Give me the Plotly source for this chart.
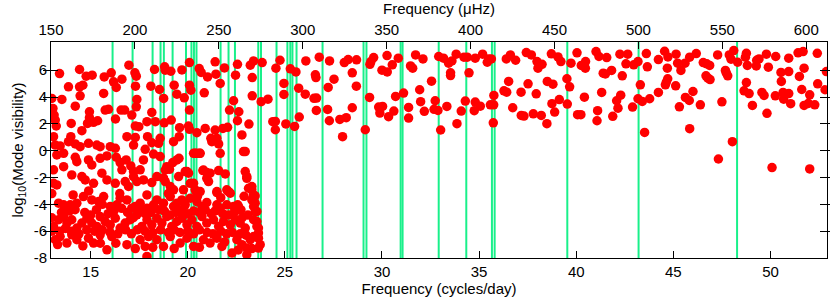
import plotly.graph_objects as go

CD_TO_UHZ = 11.574

# Frequencies (cycles/day) of the green vertical lines
line_freqs = [16.13, 17.16, 18.19, 18.60, 18.77, 19.22, 19.91, 20.19, 20.32, 20.45,
              21.69, 22.10, 22.43, 23.63, 23.77, 24.57, 25.13, 25.28, 25.39, 25.60,
              26.94, 29.05, 29.20, 30.96, 31.06, 32.92, 34.34, 35.66, 35.80, 39.54,
              43.21, 48.28]

# Low-frequency modes, upper part (x in c/d, y = log10 visibility)
low_up_x = [13.00, 13.06, 13.12, 13.18, 13.23, 13.09, 13.40, 13.52, 13.86, 14.00, 13.98, 14.21,
            14.43, 14.43, 14.46, 14.60, 14.55, 14.77, 14.94, 14.94, 14.84, 15.08, 15.15, 15.36,
            15.67, 15.70, 15.75, 15.92, 16.06, 16.18, 16.32, 16.28, 16.61, 16.57, 16.75, 16.87,
            16.97, 17.12, 17.28, 17.35, 17.31, 17.38, 17.35, 17.30, 17.30, 17.48, 17.90, 17.93,
            18.10, 18.15, 18.29, 18.33, 18.55, 18.58, 18.81, 18.84, 18.76, 18.79, 19.13, 19.30,
            19.44, 19.15, 19.58, 19.56, 19.70, 19.82, 20.09, 20.09, 20.16, 20.09, 20.04, 20.09,
            20.47, 20.59, 20.69, 20.85, 21.02, 20.90, 21.19, 21.41, 21.45, 21.41, 21.50, 21.67,
            21.89, 21.81, 22.05, 22.15, 22.36, 22.46, 22.56, 22.56, 22.63, 22.79, 23.15, 23.22,
            23.32, 23.32, 23.39, 23.83, 23.78, 24.13, 24.38]
low_up_y = [3.89, 3.15, 2.65, 2.28, 1.84, 1.04, 5.75, 3.82, 4.76, 2.03, 1.04, 3.32,
            6.05, 4.76, 4.09, 4.88, 1.49, 5.55, 2.90, 2.46, 2.03, 5.63, 2.11, 2.23,
            4.27, 5.50, 3.03, 3.08, 5.80, 5.13, 4.71, 2.36, 5.33, 3.03, 3.03, 1.04,
            6.37, 2.65, 5.80, 5.55, 4.81, 3.82, 3.27, 1.84, 0.99, 1.79, 2.16, 1.04,
            4.81, 2.85, 6.05, 2.16, 4.56, 0.92, 6.25, 6.00, 3.89, 2.08, 5.92, 4.88,
            4.21, 2.28, 1.71, 1.04, 6.02, 3.94, 6.57, 4.88, 4.51, 3.03, 1.84, 1.59,
            1.34, 6.12, 5.83, 4.31, 5.50, 1.66, 0.92, 6.62, 5.70, 1.54, 0.92, 5.01,
            6.17, 1.66, 1.74, 3.03, 3.72, 5.63, 6.44, 2.23, 2.90, 1.17, 1.98, 6.37,
            4.09, 5.45, 6.69, 6.57, 3.65, 3.84, 2.16]

# Low-frequency modes, lower part
low_dn_x = [13.18, 13.43, 13.86, 14.21, 14.46, 14.89, 15.32, 15.49, 16.01, 16.27, 17.21, 17.81,
            18.15, 18.50, 19.27, 20.30, 20.47, 20.64, 21.24, 21.59, 22.87,
            13.26, 13.61, 13.09, 14.21, 14.29, 14.89, 15.06, 15.49, 15.84, 16.32, 16.52, 16.61,
            16.83, 17.07, 17.21, 17.55, 17.72, 18.24, 18.58, 18.92, 19.06, 19.23, 19.55, 19.96,
            20.04, 20.78, 20.98, 21.15, 21.59, 21.93, 22.96, 23.04,
            13.09, 13.26, 13.61, 14.03, 14.55, 14.72, 15.15, 15.58, 15.84, 16.27, 16.78, 16.95,
            17.21, 17.38, 17.72, 18.15, 18.41, 18.75, 18.84, 19.10, 19.27, 19.53, 19.78, 20.13,
            20.38, 20.64, 21.07, 21.50, 22.01, 22.19, 23.13, 23.30, 23.47,
            13.35, 13.61, 13.95, 14.29, 14.63, 15.06, 15.41, 15.67, 16.01, 16.35, 16.52, 16.87,
            17.12, 17.30, 17.55, 17.90, 18.24, 18.41, 18.75, 19.10, 19.27, 19.44, 19.70, 19.87,
            20.13, 20.47, 20.73, 20.98, 21.50, 21.67, 22.01, 22.36, 22.57, 22.74, 23.30, 23.39,
            23.47,
            13.09, 13.35, 13.61, 13.78, 14.03, 14.29, 14.55, 14.81, 15.06, 15.32, 15.49, 15.75,
            16.01, 16.27, 16.52, 16.78, 17.04, 17.38, 17.64, 17.90, 18.15, 18.41, 18.67, 18.92,
            19.18, 19.44, 19.70, 19.96, 20.21, 20.47, 20.73, 20.98, 21.33, 21.59, 21.84, 22.19,
            22.45, 22.70, 22.96, 23.39, 23.56, 23.64,
            13.18, 13.43, 13.78, 14.03, 14.29, 14.89, 15.15, 15.49, 15.84, 16.09, 16.87, 17.55,
            17.81, 17.90, 17.98, 18.41, 18.75, 19.10, 19.61, 19.96, 20.30, 20.81, 21.15, 21.50,
            21.76, 22.28, 22.53, 22.79, 23.04, 23.22, 23.64, 23.39,
            18.84, 19.44, 18.75, 19.87, 20.30, 20.47, 20.81, 20.98, 20.38, 20.61, 21.67, 22.96,
            23.04, 23.30, 23.39, 23.47, 23.56, 23.56, 23.64, 23.73, 23.64, 23.04, 22.10, 21.50,
            22.61,
            13.5, 13.9, 14.2, 14.7, 15.0, 15.3, 15.6, 15.9, 16.2, 16.6, 16.9, 17.2, 17.5, 17.8,
            18.1, 18.5, 18.8, 19.1, 19.4, 19.7, 20.0, 20.3, 20.6, 20.9, 21.2, 21.4, 21.8, 22.1,
            22.4, 22.8, 23.1,
            13.4, 13.7, 14.0, 14.4, 14.8, 15.2, 15.6, 16.0, 16.4, 16.8, 17.1, 17.4, 17.8, 18.2,
            18.6, 19.0, 19.3, 19.6, 20.0, 20.3, 20.6, 21.0, 21.3, 21.7, 22.0, 22.3, 22.7, 23.0,
            13.3, 14.6, 15.5, 16.3, 17.3, 18.2, 19.3, 20.6, 21.9, 22.6, 23.3,
            13.0, 13.0, 13.0, 14.1, 14.9, 16.5, 17.9, 19.0, 20.5, 21.7, 22.9]
low_dn_y = [0.42, 0.35, 0.67, 0.50, 0.30, 0.55, 0.42, 0.30, 0.30, 0.18, 0.42, 0.10,
            0.59, 0.55, 0.67, -0.20, -0.20, -0.20, 0.67, 0.50, -0.07,
            -0.32, -0.20, -1.43, -0.49, -0.82, -0.69, -1.06, -0.57, -0.39, -0.49, -0.89, -1.43,
            -0.69, -1.14, -1.56, -1.43, -0.69, -0.25, -0.44, -1.19, -1.39, -0.89, -0.57, -1.56,
            -1.68, -1.48, -1.63, -1.68, -1.48, -1.73, -1.56, -1.93,
            -2.43, -2.55, -1.19, -1.81, -1.93, -2.18, -2.43, -1.68, -2.18, -2.43, -2.30, -2.67,
            -1.93, -2.30, -2.18, -2.38, -1.93, -2.05, -2.30, -2.67, -2.92, -1.93, -2.92, -2.43,
            -2.92, -3.05, -2.30, -3.12, -2.92, -3.17, -2.80, -2.92, -3.37,
            -3.91, -4.04, -4.04, -3.91, -3.42, -3.67, -3.79, -3.42, -4.16, -4.04, -3.54, -3.67,
            -4.29, -4.16, -3.91, -4.29, -4.04, -3.67, -3.91, -3.42, -4.16, -3.91, -3.67, -4.04,
            -3.54, -3.79, -4.16, -3.86, -4.04, -4.29, -4.04, -4.16, -4.04, -4.41, -3.67, -4.16,
            -4.54,
            -5.65, -5.15, -4.91, -5.40, -5.15, -5.77, -5.40, -5.03, -5.40, -5.65, -4.91, -5.28,
            -5.53, -5.03, -5.77, -5.40, -5.15, -4.78, -5.65, -5.15, -5.53, -5.03, -5.40, -4.91,
            -5.65, -5.28, -5.03, -5.53, -5.15, -5.65, -4.91, -5.40, -5.15, -5.65, -5.28, -5.53,
            -5.15, -5.40, -5.77, -5.15, -5.65, -6.14,
            -6.64, -6.40, -6.89, -6.27, -6.64, -6.52, -6.89, -6.27, -7.39, -6.40, -7.01, -6.64,
            -7.14, -7.88, -6.40, -6.64, -7.14, -6.40, -6.89, -6.52, -7.14, -6.64, -6.89, -6.52,
            -7.14, -7.63, -6.64, -7.01, -7.76, -6.64, -7.26, -6.40,
            -1.44, -0.69, -2.06, -1.56, -2.43, -3.05, -1.44, -2.06, -0.20, -0.20, -0.20, -0.07,
            -2.06, -2.67, -3.30, -3.91, -4.53, -5.28, -5.77, -7.01, -6.52, -7.26, -3.05, -3.05,
            -4.16,
            -4.6, -4.5, -4.4, -4.6, -4.8, -4.4, -4.0, -4.7, -4.5, -4.3, -4.6, -5.0, -4.4, -4.7,
            -4.6, -4.4, -4.5, -4.8, -4.6, -4.4, -4.7, -4.5, -4.6, -4.4, -4.7, -4.5, -4.7, -4.8,
            -4.6, -5.0, -4.8,
            -6.0, -5.8, -6.0, -6.2, -5.9, -6.0, -5.9, -6.1, -6.2, -5.9, -6.2, -5.9, -6.0, -6.1,
            -5.9, -6.1, -5.9, -6.1, -6.0, -6.2, -5.9, -6.1, -6.2, -6.0, -6.2, -6.1, -6.2, -6.3,
            -7.0, -7.1, -6.9, -6.9, -7.3, -7.2, -7.3, -7.2, -6.8, -7.4, -7.3,
            -3.2, -5.0, -6.0, -3.3, -3.0, -3.2, -3.3, -3.2, -3.4, -3.5, -3.4]

# Mid-frequency modes (24.5 - 39 c/d)
mid_x = [24.75, 24.54, 24.51, 24.51, 25.28, 25.57, 24.95, 24.95, 25.05, 25.50, 25.74, 25.71,
         26.05, 26.08, 26.77, 27.30, 26.57, 26.60, 26.50, 26.63, 26.62, 27.23, 27.53, 27.20,
         27.29, 27.97, 27.83, 28.16, 28.47, 28.06, 28.26, 28.69, 28.47, 28.68, 29.14, 29.36,
         29.38, 29.43, 29.57, 30.00, 30.27, 30.26, 30.53, 30.84, 29.83, 30.03, 29.89, 30.34,
         30.61, 30.70, 31.11, 31.37, 31.37, 31.47, 31.58, 31.73, 32.11, 31.94, 32.55, 31.99,
         32.18, 32.74, 32.68, 32.88, 32.92, 33.17, 33.43, 33.60, 33.53, 33.53, 33.82, 34.22,
         34.39, 34.80, 34.48, 33.34, 34.08, 34.29, 33.86, 33.02, 34.80, 34.75, 35.06, 35.18,
         35.42, 35.49, 35.63, 35.58, 35.75, 35.76, 35.73, 36.40, 36.61, 36.88, 36.52, 36.28,
         36.42, 36.73, 37.17, 37.31, 37.16, 37.52, 37.43, 37.69, 37.98, 38.24, 38.03, 37.94,
         37.79, 38.20, 38.49, 38.51, 38.72, 38.80, 38.75, 38.89]
mid_y = [6.74, 6.15, 2.18, 1.56, 6.10, 5.87, 5.01, 4.19, 1.99, 1.81, 2.51, 4.66,
         4.21, 6.69, 6.97, 6.69, 5.65, 5.45, 3.90, 3.92, 3.00, 4.71, 5.33, 3.07,
         2.23, 1.04, 2.33, 2.46, 3.20, 6.57, 6.79, 6.77, 5.80, 4.81, 1.56, 3.97,
         6.44, 6.64, 6.94, 6.00, 5.87, 7.09, 6.40, 6.89, 3.25, 3.30, 2.80, 2.53,
         2.95, 4.04, 4.29, 3.22, 2.43, 6.32, 6.15, 7.14, 6.84, 4.54, 5.18, 3.65,
         2.93, 3.72, 3.08, 3.00, 7.02, 6.89, 6.52, 6.69, 5.80, 5.60, 7.19, 6.97,
         6.97, 6.89, 5.80, 3.30, 2.95, 3.70, 2.01, 1.54, 3.62, 2.98, 3.32, 7.19,
         6.59, 6.84, 6.84, 3.42, 3.42, 4.12, 2.08, 6.84, 7.14, 6.74, 5.16, 4.46,
         4.36, 3.20, 2.63, 2.58, 4.36, 4.98, 7.31, 7.14, 6.64, 6.44, 6.15, 4.24,
         2.75, 2.63, 2.01, 5.16, 7.22, 4.96, 3.50, 2.88]

# High-frequency modes (> 39 c/d)
high_x = [39.06, 39.21, 40.04, 39.73, 40.26, 40.47, 40.48, 41.02, 41.17, 41.57, 42.25, 42.65,
          42.56, 42.96, 43.18, 43.61, 43.66, 44.23, 44.55, 44.72, 44.69, 45.14, 45.22, 45.39,
          45.60, 45.84, 46.18, 46.54, 46.72, 46.87, 47.28, 47.88, 47.97, 48.11, 48.31, 48.76,
          48.71, 48.81, 49.27, 49.29, 49.41, 49.79, 49.89, 50.27, 50.94, 51.42, 51.68, 51.73,
          52.41, 52.88,
          39.52, 39.66, 41.39, 41.50, 41.82, 42.37, 43.30, 44.71, 44.59, 45.12, 46.68, 46.78,
          46.89, 47.73, 47.80, 47.68, 48.76, 48.64, 48.90, 49.56, 49.67, 50.54, 50.56, 50.94,
          51.49, 51.61, 52.02, 52.43, 52.81,
          39.13, 39.54, 40.42, 40.07, 40.24, 41.10, 41.07, 41.31, 42.08, 42.15, 42.29, 41.88,
          42.90, 43.18, 43.40, 43.78, 43.52, 44.23, 44.64, 45.62, 45.82, 46.01, 45.31, 46.39,
          45.84, 47.50, 47.32, 48.04, 49.07, 49.82, 50.25, 50.65, 50.68, 50.94, 51.04, 51.73,
          51.95, 52.28, 50.08, 52.02]
high_y = [6.99, 6.64, 7.29, 6.52, 6.35, 6.15, 6.64, 7.39, 7.02, 6.94, 7.19, 7.19,
          6.47, 6.40, 6.64, 7.24, 6.25, 6.79, 7.41, 6.99, 6.15, 7.19, 6.52, 5.98,
          6.52, 6.97, 7.24, 6.57, 6.47, 6.35, 7.14, 7.14, 6.82, 7.46, 6.59, 7.26,
          6.97, 6.35, 6.32, 6.74, 6.84, 7.19, 6.22, 7.02, 6.89, 7.29, 7.39, 6.15,
          7.26, 5.90,
          5.36, 4.76, 5.78, 5.72, 5.98, 5.58, 4.91, 5.36, 4.91, 4.83, 5.58, 5.40,
          5.30, 5.78, 5.58, 5.98, 5.08, 4.46, 4.26, 4.34, 4.12, 5.83, 5.16, 5.90,
          5.53, 4.56, 4.16, 4.98, 4.54,
          3.81, 3.47, 3.99, 2.68, 2.68, 2.98, 2.23, 4.34, 3.72, 3.17, 4.14, 2.56,
          3.25, 3.87, 3.67, 3.87, 1.36, 4.34, 5.11, 3.97, 3.74, 4.41, 3.27, 3.42,
          1.64, 3.64, -0.62, 0.67, 3.37, 2.78, 4.09, 4.34, 3.84, 4.26, 3.50, 3.37,
          3.52, 3.42, -1.26, -1.36]

y_tickvals = [-8, -6, -4, -2, 0, 2, 4, 6]
x_tickvals = [15, 20, 25, 30, 35, 40, 45, 50]
top_tickvals = [150, 200, 250, 300, 350, 400, 450, 500, 550, 600]

X_RANGE = [12.96, 52.91]
Y_RANGE = [-8, 8.1]

all_x = low_up_x + low_dn_x + mid_x + high_x
all_y = low_up_y + low_dn_y + mid_y + high_y

fig = go.Figure()

# green vertical lines
lx, ly = [], []
for f in line_freqs:
    lx += [f, f, None]
    ly += [Y_RANGE[0], Y_RANGE[1], None]
fig.add_trace(go.Scatter(x=lx, y=ly, mode="lines",
                         line=dict(color="#19f08a", width=2),
                         hoverinfo="skip", showlegend=False))

fig.add_trace(go.Scatter(x=all_x, y=all_y, mode="markers",
                         marker=dict(color="#ff0000", size=9.5, line=dict(width=0)),
                         showlegend=False, cliponaxis=True))

# invisible trace on the top (µHz) axis
fig.add_trace(go.Scatter(x=[X_RANGE[0] * CD_TO_UHZ], y=[0], xaxis="x2",
                         mode="markers", marker=dict(opacity=0), showlegend=False,
                         hoverinfo="skip"))

font = dict(family="Liberation Sans, Arial, sans-serif", size=15, color="black")

fig.update_layout(
    width=830, height=302,
    margin=dict(l=51, r=3, t=42, b=44),
    paper_bgcolor="white", plot_bgcolor="white",
    font=font,
    xaxis=dict(range=X_RANGE, tickvals=x_tickvals, ticktext=[str(v) for v in x_tickvals],
               ticks="inside", ticklen=7, tickcolor="black", showline=True,
               linecolor="black", linewidth=1, mirror=False, showgrid=False, zeroline=False,
               title=dict(text="Frequency (cycles/day)", standoff=2, font=font),
               tickfont=font),
    xaxis2=dict(range=[X_RANGE[0] * CD_TO_UHZ, X_RANGE[1] * CD_TO_UHZ], overlaying="x",
                side="top", tickvals=top_tickvals, ticks="inside", ticklen=7,
                tickcolor="black", showline=True, linecolor="black", linewidth=1,
                showgrid=False, zeroline=False,
                title=dict(text="Frequency (μHz)", standoff=2, font=font), tickfont=font),
    yaxis=dict(range=Y_RANGE, tickvals=y_tickvals, ticktext=[str(v) for v in y_tickvals],
               ticks="inside", ticklen=7, tickcolor="black", showline=True,
               linecolor="black", linewidth=1, mirror="allticks", showgrid=False,
               zeroline=False,
               title=dict(text="log<sub>10</sub>(Mode visibility)", standoff=6, font=font),
               tickfont=font),
)

fig.write_html("out.html", config={"displayModeBar": False},
               post_script="document.body.style.margin='0px';document.body.style.padding='0px';")
